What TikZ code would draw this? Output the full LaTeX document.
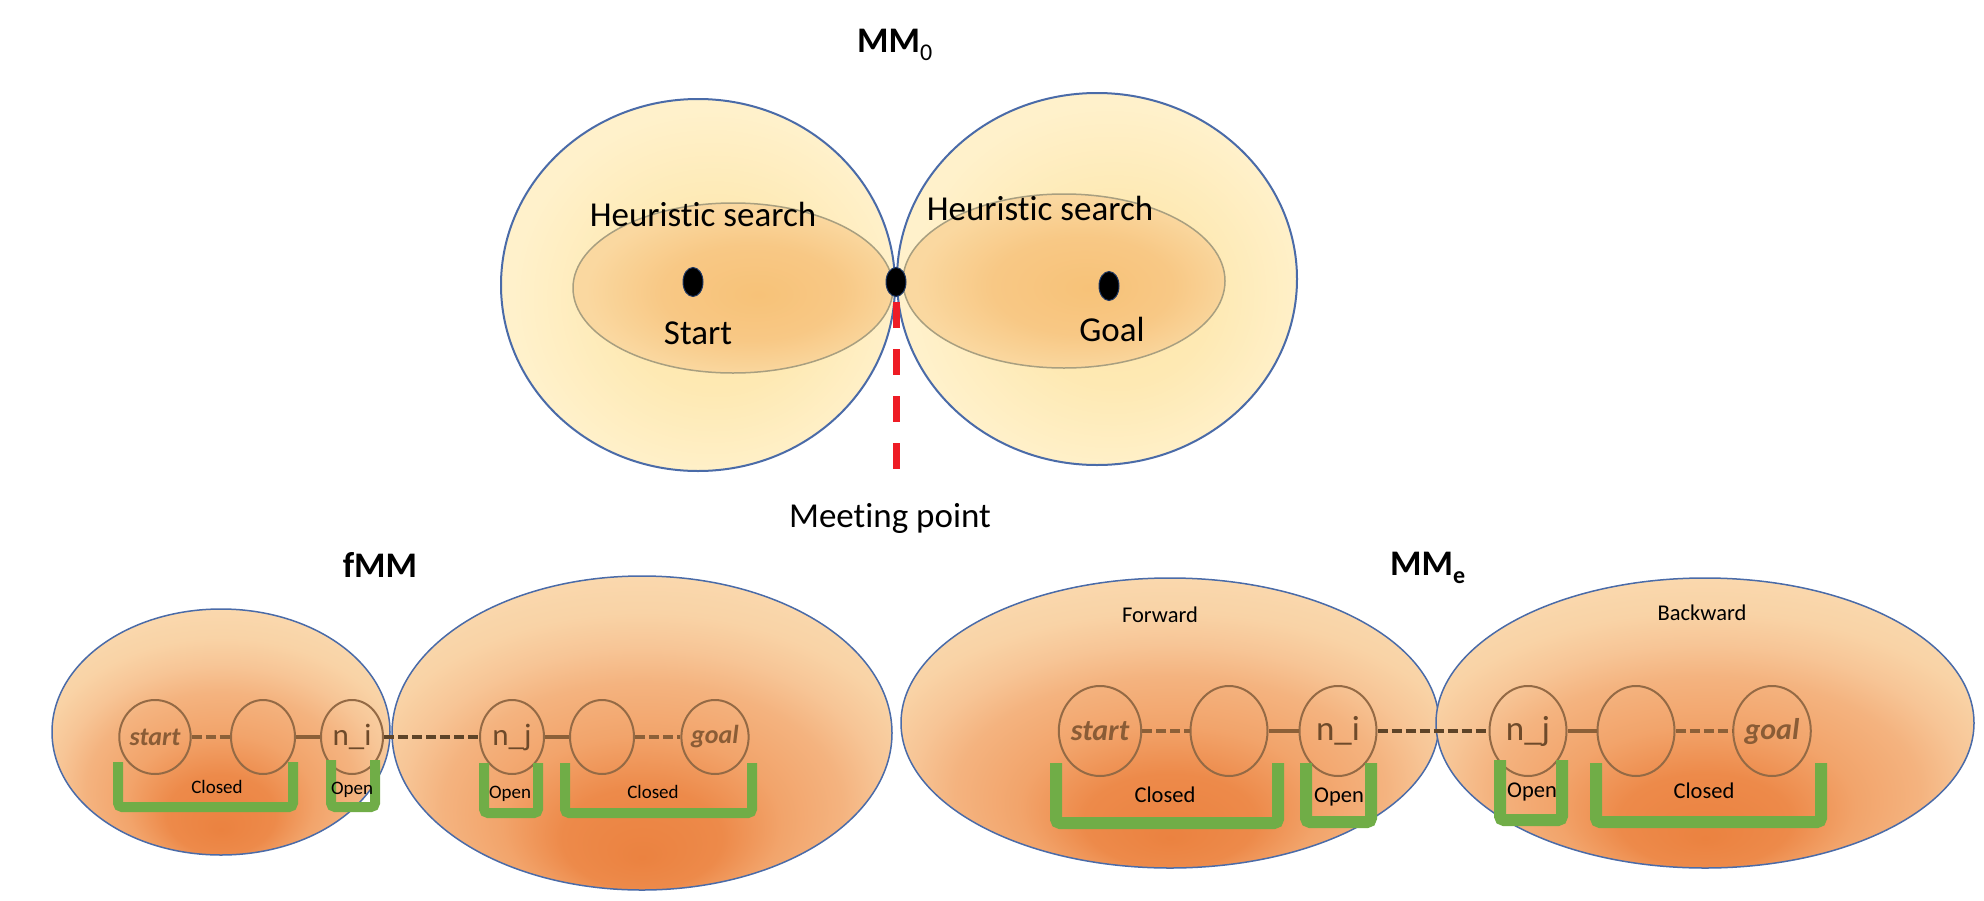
\documentclass[tikz,border=0pt]{standalone}
\usepackage{fontspec}
\setmainfont[Ligatures=NoCommon]{Carlito}
\usetikzlibrary{shapes.geometric}
\definecolor{ellblue}{HTML}{4A6BA8}
\definecolor{yA}{HTML}{FEE6AC}
\definecolor{yB}{HTML}{FEE9B3}
\definecolor{yC}{HTML}{FFF1CB}
\definecolor{yD}{HTML}{FFF3D0}
\definecolor{iA}{HTML}{F7C278}
\definecolor{iB}{HTML}{F8C885}
\definecolor{iC}{HTML}{FAD8A0}
\definecolor{iD}{HTML}{FADBA6}
\definecolor{orA}{HTML}{EB8240}
\definecolor{orB}{HTML}{ED8A4A}
\definecolor{orC}{HTML}{F2A46B}
\definecolor{orD}{HTML}{F4B37F}
\definecolor{orE}{HTML}{F7C596}
\definecolor{orF}{HTML}{F9D3A6}
\definecolor{orG}{HTML}{FAD9AF}
\definecolor{orH}{HTML}{FBDEB8}
\definecolor{cbrown}{HTML}{946A45}
\definecolor{lbrown}{HTML}{8C6038}
\definecolor{dbrown}{HTML}{5E4428}
\definecolor{tbrown}{HTML}{8A5C36}
\definecolor{nbrown}{HTML}{6E4A2A}
\definecolor{bgreen}{HTML}{70AD47}
\definecolor{redl}{HTML}{EE1C25}
\definecolor{dotblue}{HTML}{1F3864}
\definecolor{inline}{HTML}{A89F80}
\pgfdeclareradialshading{ylglow}{\pgfpoint{3bp}{-3bp}}{color(0bp)=(yA); color(12bp)=(yB); color(25bp)=(yC); color(50bp)=(yD)}
\pgfdeclareradialshading{inglow}{\pgfpoint{4bp}{-2bp}}{color(0bp)=(iA); color(14bp)=(iB); color(25bp)=(iC); color(50bp)=(iD)}
\pgfdeclareradialshading{orglow}{\pgfpoint{0bp}{-20bp}}{color(0bp)=(orA); color(8bp)=(orB); color(14bp)=(orC); color(20bp)=(orD); color(24bp)=(orE); color(28bp)=(orF); color(33bp)=(orG); color(50bp)=(orH)}
\begin{document}
\begin{tikzpicture}[x=1pt,y=-1pt,
  outerc/.style={ellipse, draw=ellblue, line width=2pt, shade, shading=ylglow, inner sep=0pt},
  innere/.style={ellipse, draw=inline, line width=1.5pt, shade, shading=inglow, inner sep=0pt},
  dotn/.style={ellipse, fill=black, draw=dotblue, line width=1pt, inner sep=0pt, minimum width=20pt, minimum height=29pt},
  bigell/.style={ellipse, draw=ellblue, line width=1.5pt, shade, shading=orglow, inner sep=0pt},
  snode/.style={ellipse, draw=cbrown, line width=2pt, inner sep=0pt},
  smallc/.style={snode, minimum width=64pt, minimum height=74pt},
  largec/.style={snode, minimum width=77pt, minimum height=90pt},
  itxt/.style={text=tbrown, font=\bfseries\itshape},
  ntxt/.style={text=nbrown},
  dline/.style={draw=lbrown, line width=4pt, dash pattern=on 10pt off 4pt},
  sline/.style={draw=lbrown, line width=3.5pt},
  lline/.style={draw=dbrown, line width=4pt, dash pattern=on 10pt off 4pt},
  bracket/.style={draw=bgreen, line width=10pt, rounded corners=4pt, line cap=butt},
  bracketL/.style={bracket, line width=12pt},
  lbl/.style={anchor=base, inner sep=0pt},
  big/.style={lbl, font=\fontsize{35}{42}\selectfont},
  title/.style={inner sep=0pt, font=\fontsize{36}{43}\selectfont\bfseries}
]
\fill[white] (0,0) rectangle (1984,900);
\useasboundingbox (0,0) rectangle (1984,900);

% ---------- MM0 ----------
\node[title, anchor=base west] (mm0) at (857,52) {MM\raisebox{-8pt}{\fontsize{24}{24}\mdseries\selectfont 0}};
\node[outerc, minimum width=394pt, minimum height=372pt] (oL) at (698,285) {};
\node[outerc, minimum width=400pt, minimum height=372pt] (oR) at (1097,279) {};
\node[innere, minimum width=320pt, minimum height=170pt] (iL) at (733,288) {};
\node[innere, minimum width=322pt, minimum height=174pt] (iR) at (1064,281) {};
\node[dotn] (dS) at (693,282) {};
\node[dotn] (dG) at (1109,286) {};
\node[dotn] (mdot) at (896,282) {};
\coordinate (mpend) at (896,489);
\draw[draw=redl, line width=7pt, dash pattern=on 26pt off 21pt] ([yshift=-5pt]mdot.south) -- (mpend);
\node[big] (hsL) at (703,226) {Heuristic search};
\node[big] (hsR) at (1040,220) {Heuristic search};
\node[big] (tS) at (698,344) {Start};
\node[big] (tG) at (1112,341) {Goal};
\node[big] (tM) at (890,527) {Meeting point};

% ---------- fMM ----------
\node[title, anchor=base] (fmm) at (380,577) {fMM};
\node[bigell, minimum width=338pt, minimum height=246pt] (fe1) at (221,732) {};
\node[bigell, minimum width=500pt, minimum height=314pt] (fe2) at (642,733) {};
\node[smallc, minimum width=70pt, itxt, font=\fontsize{26}{30}\selectfont\bfseries\itshape] (fs) at (155,737) {start};
\node[smallc] (fb1) at (263,737) {};
\node[smallc, minimum width=62pt, ntxt, font=\fontsize{31}{36}\selectfont] (fni) at (352,737) {n\_i};
\node[smallc, ntxt, font=\fontsize{31}{36}\selectfont] (fnj) at (512,737) {n\_j};
\node[smallc] (fb2) at (602,737) {};
\node[smallc, itxt, font=\fontsize{26}{30}\selectfont\bfseries\itshape] (fg) at (715,737) {goal};
\draw[dline] (fs) -- (fb1);
\draw[sline] (fb1) -- (fni);
\draw[lline] (fni) -- (fnj);
\draw[sline] (fnj) -- (fb2);
\draw[dline] (fb2) -- (fg);
\draw[bracket] (118,762) -- (118,807) -- (293,807) -- (293,762);
\draw[bracket] (331,760) -- (331,807) -- (375,807) -- (375,760);
\draw[bracket] (484,763) -- (484,813) -- (538,813) -- (538,763);
\draw[bracket] (565,763) -- (565,813) -- (752,813) -- (752,763);
\node[lbl, font=\fontsize{19}{23}\selectfont] (fcl1) at (217,793) {Closed};
\node[lbl, font=\fontsize{19}{23}\selectfont] (fop1) at (352,794) {Open};
\node[lbl, font=\fontsize{19}{23}\selectfont] (fop2) at (510,798) {Open};
\node[lbl, font=\fontsize{19}{23}\selectfont] (fcl2) at (653,798) {Closed};

% ---------- MMe ----------
\node[title, anchor=base west] (mme) at (1390,575) {MM\raisebox{-8pt}{\fontsize{24}{24}\selectfont e}};
\node[bigell, minimum width=538pt, minimum height=290pt] (ef) at (1170,723) {};
\node[bigell, minimum width=538pt, minimum height=290pt] (eb) at (1705,723) {};
\node[lbl, font=\fontsize{22.5}{27}\selectfont] (tfw) at (1160,622) {Forward};
\node[lbl, font=\fontsize{22.5}{27}\selectfont] (tbw) at (1702,620) {Backward};
\node[largec, minimum width=82pt, itxt, font=\fontsize{30}{35}\selectfont\bfseries\itshape] (es) at (1100,731) {start};
\node[largec] (eb1) at (1229,731) {};
\node[largec, ntxt, font=\fontsize{35}{40}\selectfont] (eni) at (1338,731) {n\_i};
\node[largec, ntxt, font=\fontsize{35}{40}\selectfont] (enj) at (1528,731) {n\_j};
\node[largec] (eb2) at (1636,731) {};
\node[largec, itxt, font=\fontsize{30}{35}\selectfont\bfseries\itshape] (eg) at (1772,731) {goal};
\draw[dline] (es) -- (eb1);
\draw[sline] (eb1) -- (eni);
\draw[lline] (eni) -- (enj);
\draw[sline] (enj) -- (eb2);
\draw[dline] (eb2) -- (eg);
\draw[bracketL] (1056,763) -- (1056,823) -- (1278,823) -- (1278,763);
\draw[bracketL] (1306,763) -- (1306,822) -- (1371,822) -- (1371,763);
\draw[bracketL] (1500,760) -- (1500,820) -- (1562,820) -- (1562,760);
\draw[bracketL] (1596,763) -- (1596,822) -- (1821,822) -- (1821,763);
\node[lbl, font=\fontsize{22.5}{27}\selectfont] (ecl1) at (1165,802) {Closed};
\node[lbl, font=\fontsize{22.5}{27}\selectfont] (eop1) at (1339,802) {Open};
\node[lbl, font=\fontsize{22.5}{27}\selectfont] (eop2) at (1532,797) {Open};
\node[lbl, font=\fontsize{22.5}{27}\selectfont] (ecl2) at (1704,798) {Closed};
\end{tikzpicture}
\end{document}
